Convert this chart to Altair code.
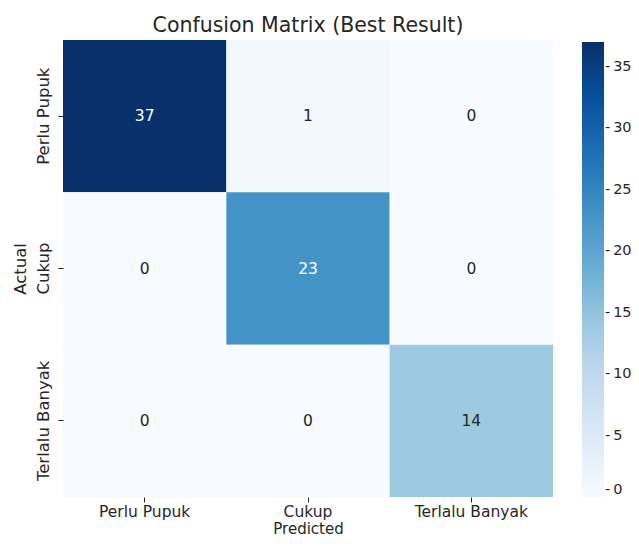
import altair as alt
import pandas as pd

labels = ["Perlu Pupuk", "Cukup", "Terlalu Banyak"]
matrix = [
    [37, 1, 0],
    [0, 23, 0],
    [0, 0, 14],
]
blues = ['#f7fbff', '#deebf7', '#c6dbef', '#9ecae1', '#6baed6',
         '#4292c6', '#2171b5', '#08519c', '#08306b']
vmax = 37
cbar_ticks = [0, 5, 10, 15, 20, 25, 30, 35]

rows = []
for i, actual in enumerate(labels):
    for j, pred in enumerate(labels):
        rows.append({"Actual": actual, "Predicted": pred, "count": matrix[i][j]})
df = pd.DataFrame(rows)

dom = [vmax * k / (len(blues) - 1) for k in range(len(blues))]
color_scale = alt.Scale(domain=dom, range=blues, interpolate="rgb")

base = alt.Chart(df).encode(
    x=alt.X("Predicted:N", sort=labels, title="Predicted",
            axis=alt.Axis(labelAngle=0, domain=False, tickSize=5, labelPadding=2,
                          titlePadding=2, labelFontSize=15.5, titleFontSize=15)),
    y=alt.Y("Actual:N", sort=labels, title="Actual",
            axis=alt.Axis(labelAngle=-90, domain=False, tickSize=5, labelPadding=7,
                          labelBaseline="bottom", labelAlign="center",
                          titlePadding=7)),
)

rect = base.mark_rect().encode(
    color=alt.Color("count:Q", scale=color_scale, title=None,
                    legend=alt.Legend(orient="none", legendX=519, legendY=2,
                                      gradientLength=455, gradientThickness=22,
                                      direction="vertical",
                                      values=cbar_ticks,
                                      labelExpr="'-\u2009' + datum.label",
                                      labelFontSize=14.5, labelOffset=1,
                                      labelColor="#262626", labelOverlap=False,
                                      gradientStrokeWidth=0))
)

text = base.mark_text(fontSize=15.5).encode(
    text="count:Q",
    color=alt.condition(alt.datum.count > 20, alt.value("white"), alt.value("#262626")),
)

chart = (rect + text).properties(
    width=490, height=457,
    title=alt.TitleParams("Confusion Matrix (Best Result)", fontSize=20.5,
                          fontWeight="normal", anchor="middle", offset=4),
    autosize=alt.AutoSizeParams(type="none"),
    padding={"left": 55, "top": 32, "right": 78, "bottom": 42},
).configure(
    font="DejaVu Sans",
).configure_axis(
    labelFontSize=16.5, titleFontSize=16.5, labelColor="#262626", titleColor="#262626",
    tickColor="#262626", titleFontWeight="normal", grid=False,
).configure_scale(
    bandPaddingInner=0, bandPaddingOuter=0,
).configure_view(stroke=None).configure_title(color="#262626")

chart.save("out.html", embed_options={"renderer": "svg", "actions": False})
